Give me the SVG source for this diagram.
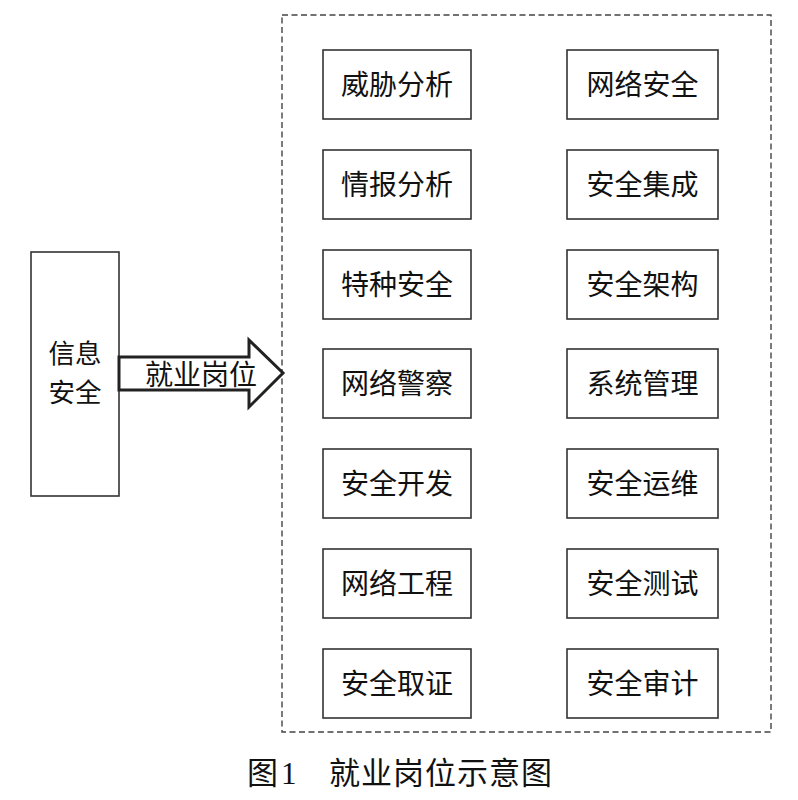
<svg xmlns="http://www.w3.org/2000/svg" width="798" height="800" viewBox="0 0 798 800">
<style>
.box{fill:#fff;stroke:#333;stroke-width:1.6}
.t{font-family:"Noto Sans CJK SC","Noto Sans CJK JP",sans-serif;font-size:28px;fill:#111;text-anchor:middle}
.cap{font-family:"Noto Sans CJK SC",serif;font-size:31px;fill:#111}
</style>
<rect width="798" height="800" fill="#fff"/>
<rect x="282" y="15" width="489" height="717" fill="none" stroke="#444" stroke-width="1.4" stroke-dasharray="6,3.5"/>
<g id="src">
<rect class="box" x="31" y="252" width="88" height="244"/>
<text class="t" x="75" y="363" style="font-size:26.5px">信息</text>
<text class="t" x="75" y="402" style="font-size:26.5px">安全</text>
</g>
<g id="connectors">
<polygon points="119,357 249,357 249,340 283,373 249,407 249,390 119,390" fill="#fff" stroke="#222" stroke-width="3" stroke-linejoin="miter"/>
<text class="t" x="201" y="385">就业岗位</text>
</g>
<g id="n1"><rect class="box" x="323" y="50" width="148" height="69"/><text class="t" x="397" y="95">威胁分析</text></g>
<g id="n2"><rect class="box" x="323" y="150" width="148" height="69"/><text class="t" x="397" y="195">情报分析</text></g>
<g id="n3"><rect class="box" x="323" y="250" width="148" height="69"/><text class="t" x="397" y="295">特种安全</text></g>
<g id="n4"><rect class="box" x="323" y="349" width="148" height="69"/><text class="t" x="397" y="394">网络警察</text></g>
<g id="n5"><rect class="box" x="323" y="449" width="148" height="69"/><text class="t" x="397" y="494">安全开发</text></g>
<g id="n6"><rect class="box" x="323" y="549" width="148" height="69"/><text class="t" x="397" y="594">网络工程</text></g>
<g id="n7"><rect class="box" x="323" y="649" width="148" height="69"/><text class="t" x="397" y="694">安全取证</text></g>
<g id="m1"><rect class="box" x="567" y="50" width="151" height="69"/><text class="t" x="642.5" y="95">网络安全</text></g>
<g id="m2"><rect class="box" x="567" y="150" width="151" height="69"/><text class="t" x="642.5" y="195">安全集成</text></g>
<g id="m3"><rect class="box" x="567" y="250" width="151" height="69"/><text class="t" x="642.5" y="295">安全架构</text></g>
<g id="m4"><rect class="box" x="567" y="349" width="151" height="69"/><text class="t" x="642.5" y="394">系统管理</text></g>
<g id="m5"><rect class="box" x="567" y="449" width="151" height="69"/><text class="t" x="642.5" y="494">安全运维</text></g>
<g id="m6"><rect class="box" x="567" y="549" width="151" height="69"/><text class="t" x="642.5" y="594">安全测试</text></g>
<g id="m7"><rect class="box" x="567" y="649" width="151" height="69"/><text class="t" x="642.5" y="694">安全审计</text></g>
<g id="caption">
<text class="cap" x="247" y="784">图</text>
<text x="281" y="784" style="font-family:'Liberation Serif',serif;font-size:31px;fill:#111">1</text>
<text class="cap" x="329" y="784" textLength="223">就业岗位示意图</text>
</g>
</svg>
